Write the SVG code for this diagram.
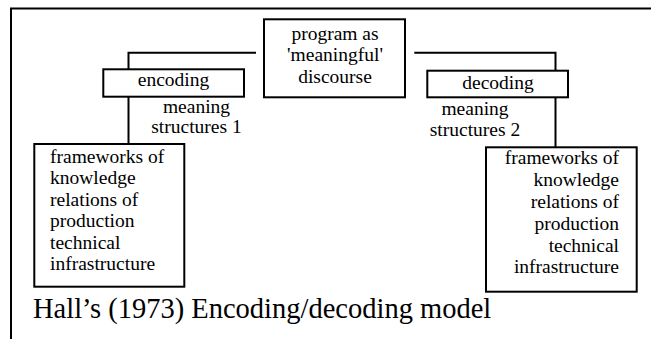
<svg xmlns="http://www.w3.org/2000/svg" width="651" height="339" viewBox="0 0 651 339">
<style>
  .box { fill: #ffffff; stroke: #000000; stroke-width: 2; }
  .ln { fill: none; stroke: #000000; stroke-width: 2; }
  text { font-family: "Liberation Serif", "Times New Roman", serif; fill: #000000; }
  .t { font-size: 19.5px; }
  .c { text-anchor: middle; }
  .r { text-anchor: end; }
  .title { font-size: 28.5px; }
</style>
<rect x="0" y="0" width="651" height="339" fill="#ffffff"/>
<g id="frame">
  <polyline class="ln" points="11,339 11,8.5 651,8.5"/>
</g>
<g id="connectors">
  <polyline class="ln" points="256,52.7 128.5,52.7 128.5,69.3"/>
  <line class="ln" x1="128.5" y1="96.7" x2="128.5" y2="144"/>
  <polyline class="ln" points="414.3,52.7 555.5,52.7 555.5,70.7"/>
  <line class="ln" x1="555.5" y1="97.3" x2="555.5" y2="147.3"/>
</g>
<g id="program" font-family="Liberation Serif, serif">
  <rect class="box" x="264" y="19.3" width="141" height="78"/>
  <text class="t c" x="335" y="39.5">program as</text>
  <text class="t c" x="335" y="61">'meaningful'</text>
  <text class="t c" x="335" y="82.7">discourse</text>
</g>
<g id="encoding" font-family="Liberation Serif, serif">
  <rect class="box" x="103.3" y="69.3" width="140.7" height="27.4"/>
  <text class="t c" x="173.5" y="86">encoding</text>
</g>
<g id="meaning1" font-family="Liberation Serif, serif">
  <text class="t c" x="196.5" y="112.7">meaning</text>
  <text class="t c" x="196.5" y="133.3">structures 1</text>
</g>
<g id="decoding" font-family="Liberation Serif, serif">
  <rect class="box" x="427.3" y="70.7" width="140.7" height="26.6"/>
  <text class="t c" x="498" y="89">decoding</text>
</g>
<g id="meaning2" font-family="Liberation Serif, serif">
  <text class="t c" x="475" y="115">meaning</text>
  <text class="t c" x="475" y="136">structures 2</text>
</g>
<g id="frameworks-left" font-family="Liberation Serif, serif">
  <rect class="box" x="34.3" y="144" width="150" height="142.7"/>
  <text class="t" x="50" y="162.7">frameworks of</text>
  <text class="t" x="50" y="184.2">knowledge</text>
  <text class="t" x="50" y="205.7">relations of</text>
  <text class="t" x="50" y="227">production</text>
  <text class="t" x="50" y="248.5">technical</text>
  <text class="t" x="50" y="270">infrastructure</text>
</g>
<g id="frameworks-right" font-family="Liberation Serif, serif">
  <rect class="box" x="486" y="147.3" width="150.7" height="144.4"/>
  <text class="t r" x="619" y="164">frameworks of</text>
  <text class="t r" x="619" y="186">knowledge</text>
  <text class="t r" x="619" y="208">relations of</text>
  <text class="t r" x="619" y="230">production</text>
  <text class="t r" x="619" y="251.7">technical</text>
  <text class="t r" x="619" y="273.3">infrastructure</text>
</g>
<g id="caption">
  <text class="title" x="33" y="318">Hall’s (1973) Encoding/decoding model</text>
</g>
</svg>
